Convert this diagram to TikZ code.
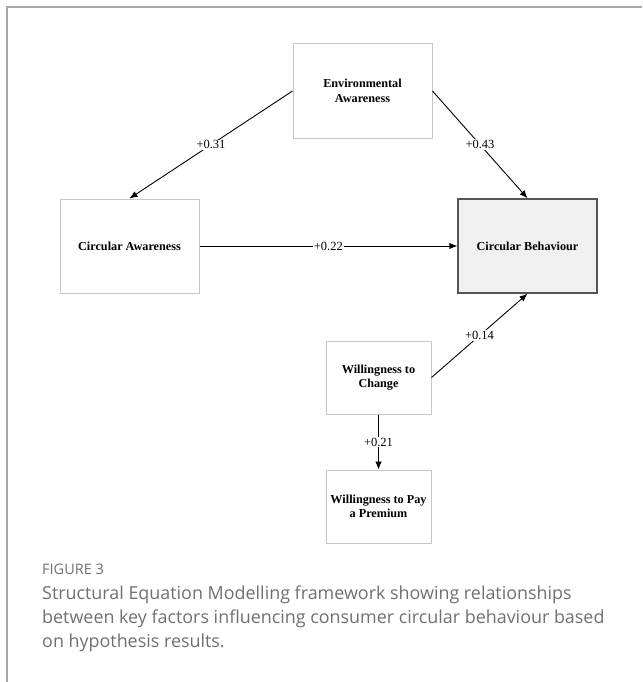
\documentclass[tikz,border=0pt]{standalone}
\usepackage{fontspec}
\setmainfont{Liberation Serif}
\newfontfamily\capfont{Open Sans}
\usetikzlibrary{arrows.meta}
\definecolor{framegray}{HTML}{A8A8A8}
\definecolor{boxgray}{HTML}{C6C6C6}
\definecolor{darkborder}{HTML}{555555}
\definecolor{cbfill}{HTML}{F0F0F0}
\definecolor{captext}{HTML}{707070}
\tikzset{
  factor/.style={draw=boxgray, line width=1pt, fill=white, align=center,
    font=\fontsize{12.2}{14.5}\selectfont\bfseries, inner sep=0pt},
  bigbox/.style={factor, minimum width=139pt, minimum height=94pt},
  smallbox/.style={factor, minimum width=105pt, minimum height=73pt},
  mainbox/.style={bigbox, draw=darkborder, line width=1.4pt, fill=cbfill},
  path/.style={draw=black, line width=0.9pt, -{Latex[length=8pt,width=6.5pt]}},
  coef/.style={fill=white, font=\fontsize{12.5}{14}\selectfont, inner sep=1pt},
  capline/.style={anchor=base west, text=captext, inner sep=0pt,
    font=\capfont\fontsize{17.9}{24}\selectfont},
}
\begin{document}
\begin{tikzpicture}[x=1pt,y=-1pt]
\useasboundingbox (0,0) rectangle (642,682);
\draw[framegray, line width=1.5pt] (7,682) -- (7,7) -- (642,7);

\node[bigbox] (env) at (362.5,91) {Environmental\\Awareness};
\node[bigbox] (ca) at (129.5,246) {Circular Awareness};
\node[mainbox] (cb) at (527.5,246) {Circular Behaviour};
\node[smallbox] (wtc) at (378.5,377.5) {Willingness to\\Change};
\node[smallbox] (wtp) at (378.5,506.5) {Willingness to Pay\\a Premium};

\draw[path] (env.west) -- node[coef] {+0.31} (ca.north);
\draw[path] (env.east) -- node[coef] {+0.43} (cb.north);
\draw[path] (ca.east) -- node[coef] {+0.22} (cb.west);
\draw[path] (wtc.east) -- node[coef] {+0.14} (cb.south);
\draw[path] (wtc.south) -- node[coef] {+0.21} (wtp.north);

\node[anchor=base west, text=captext, inner sep=0pt, font=\capfont\fontsize{14.5}{17}\selectfont] (figlabel) at (42,574.5) {FIGURE 3};
\node[capline] (cap1) at (42,599.5) {Structural Equation Modelling framework showing relationships};
\node[capline] (cap2) at (42,623.5) {between key factors influencing consumer circular behaviour based};
\node[capline] (cap3) at (42,647.5) {on hypothesis results.};
\end{tikzpicture}
\end{document}
